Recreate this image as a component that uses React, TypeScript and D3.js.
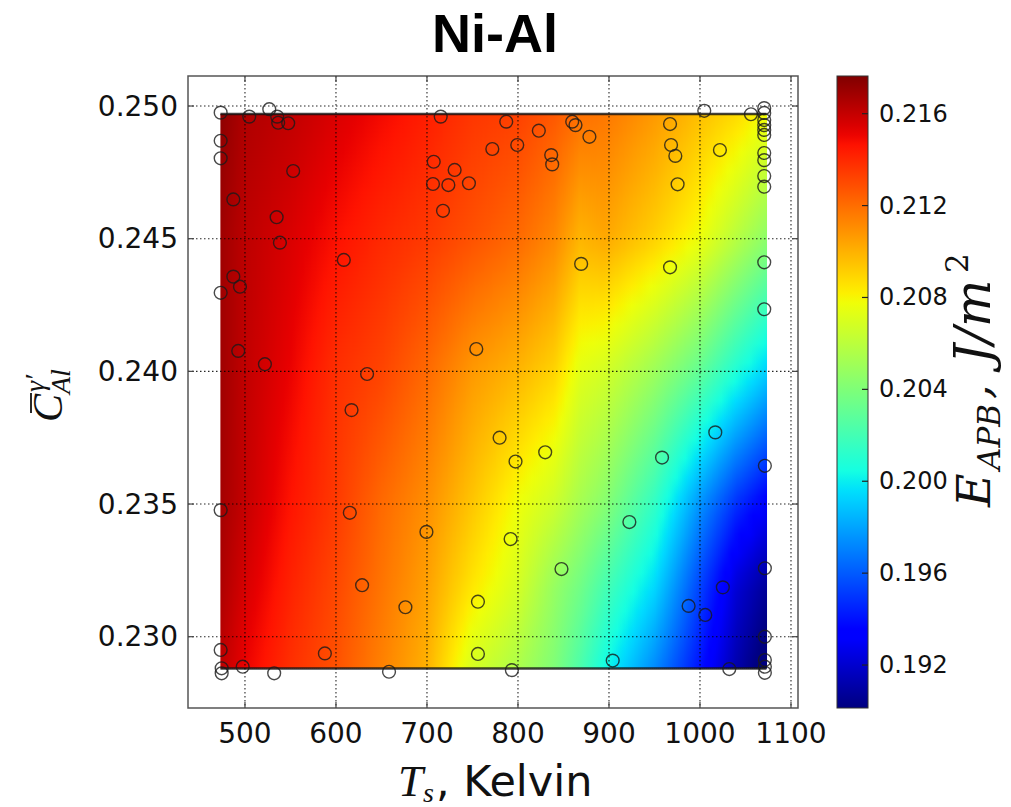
import React, { useMemo } from 'react';
import * as d3 from 'd3';

// ---- data ----
const T_COLS = [473, 500, 550, 600, 650, 700, 750, 800, 840, 868, 895, 950, 1000, 1040, 1073];
const C_ROWS = [0.2497, 0.245, 0.240, 0.235, 0.232, 0.2288];
const E_AT_C2497 = [0.2173, 0.2165, 0.2161, 0.2155, 0.2149, 0.2143, 0.2136, 0.2133, 0.2126, 0.2119, 0.2117, 0.2107, 0.2096, 0.2088, 0.2078];
const E_AT_C2450 = [0.2169, 0.2162, 0.2155, 0.2147, 0.2140, 0.2135, 0.2128, 0.2121, 0.2112, 0.2099, 0.2103, 0.2091, 0.2077, 0.2059, 0.2045];
const E_AT_C2400 = [0.2169, 0.2161, 0.2151, 0.2138, 0.2132, 0.2121, 0.2107, 0.2099, 0.2090, 0.2073, 0.2068, 0.2050, 0.2030, 0.2008, 0.1992];
const E_AT_C2350 = [0.2168, 0.2160, 0.2146, 0.2135, 0.2121, 0.2110, 0.2094, 0.2077, 0.2066, 0.2053, 0.2043, 0.2014, 0.1975, 0.1948, 0.1932];
const E_AT_C2320 = [0.2166, 0.2156, 0.2142, 0.2131, 0.2118, 0.2105, 0.2085, 0.2069, 0.2048, 0.2036, 0.2022, 0.1995, 0.1954, 0.1922, 0.1908];
const E_AT_C2288 = [0.2162, 0.2151, 0.2138, 0.2128, 0.2114, 0.2100, 0.2069, 0.2055, 0.2040, 0.2023, 0.2004, 0.1973, 0.1940, 0.1912, 0.1895];

const SAMPLE_T = [
  473.3, 504.7, 526.7, 535.4, 536.5, 547.5, 473.3, 473.3, 553.0, 487.2, 534.8, 538.4, 608.6, 487.2, 494.5, 473.3,
  715.1, 707.4, 730.4, 706.6, 723.5, 746.1, 717.6, 771.8, 787.1, 799.2, 822.9, 859.6, 863.2, 878.5, 836.5, 837.6,
  967.1, 968.2, 972.9, 975.4, 1004.7, 1021.9, 1056.0,
  1070.6, 1070.6, 1070.6, 1070.6, 1070.6, 1070.6, 1070.6, 1070.6, 1070.6, 1070.6,
  869.4, 967.1, 1070.6, 1070.6, 492.6, 521.9, 634.2, 617.1, 754.2,
  473.3, 615.2, 699.4, 628.7, 676.3, 756.0, 473.3, 587.8, 497.5, 474.4, 474.4, 532.1, 658.3, 756.0,
  779.8, 797.3, 829.9, 958.3, 1016.8, 1071.3, 922.4, 791.9, 847.8, 1071.3, 1025.1, 987.5, 1005.8, 1071.3,
  904.1, 793.3, 1032.2, 1071.3, 1071.3, 1071.3,
];
const SAMPLE_C = [
  0.24975, 0.2496, 0.24988, 0.2496, 0.24937, 0.24935, 0.24869, 0.24803, 0.24755, 0.24648, 0.24581, 0.24485, 0.2442, 0.24357, 0.24319, 0.24296,
  0.2496, 0.2479, 0.24759, 0.24706, 0.24702, 0.24709, 0.24605, 0.24838, 0.24941, 0.24853, 0.24907, 0.24941, 0.24928, 0.24884, 0.24815, 0.2478,
  0.24932, 0.24853, 0.24812, 0.24705, 0.24982, 0.24834, 0.24969,
  0.24992, 0.24974, 0.24947, 0.24928, 0.2491, 0.24891, 0.24823, 0.24796, 0.24736, 0.24696,
  0.24405, 0.24392, 0.24411, 0.24234, 0.24077, 0.24027, 0.2399, 0.23854, 0.24084,
  0.23477, 0.23467, 0.23395, 0.23194, 0.23111, 0.23132, 0.2295, 0.22937, 0.22887, 0.22881, 0.22862, 0.22862, 0.22868, 0.22935,
  0.2375, 0.2366, 0.23695, 0.23675, 0.2377, 0.23644, 0.23432, 0.23368, 0.23255, 0.23258, 0.23186, 0.23116, 0.23082, 0.23,
  0.2291, 0.22874, 0.22878, 0.22912, 0.22887, 0.22864,
];

const X_TICKS = [500, 600, 700, 800, 900, 1000, 1100];
const Y_TICKS = [0.230, 0.235, 0.240, 0.245, 0.250];
const CB_TICKS = [0.192, 0.196, 0.200, 0.204, 0.208, 0.212, 0.216];
const X_DOMAIN = [437.4, 1107.7];
const Y_DOMAIN = [0.227313, 0.251131];
const E_DOMAIN = [0.19013, 0.21764];

// ---- layout ----
const W = 1011, H = 807;
const PL = 188, PR = 798, PT = 76, PB = 708;
const CBL = 837, CBR = 868;

const jr = d3.scaleLinear([0, 0.35, 0.66, 0.89, 1], [0, 0, 1, 1, 0.5]).clamp(true);
const jg = d3.scaleLinear([0, 0.125, 0.375, 0.64, 0.91, 1], [0, 0, 1, 1, 0, 0]).clamp(true);
const jb = d3.scaleLinear([0, 0.11, 0.34, 0.65, 1], [0.5, 1, 1, 0, 0]).clamp(true);
const jet = (t: number) => d3.rgb(jr(t) * 255, jg(t) * 255, jb(t) * 255).formatHex();

export default function App() {
  const x = d3.scaleLinear(X_DOMAIN, [PL, PR]);
  const y = d3.scaleLinear(Y_DOMAIN, [PB, PT]);
  const cbY = d3.scaleLinear(E_DOMAIN, [PB, PT]);
  const norm = d3.scaleLinear(E_DOMAIN, [0, 1]);
  const color = (v: number) => jet(norm(v));

  const grid = [E_AT_C2497, E_AT_C2450, E_AT_C2400, E_AT_C2350, E_AT_C2320, E_AT_C2288];
  const rowInterp = grid.map((row) => d3.scaleLinear(T_COLS, row).clamp(true));

  const tMin = T_COLS[0], tMax = T_COLS[T_COLS.length - 1];
  const cTop = C_ROWS[0], cBot = C_ROWS[C_ROWS.length - 1];
  const hx0 = x(tMin), hx1 = x(tMax);
  const hy0 = y(cTop), hy1 = y(cBot);

  const strips = useMemo(() => {
    const out: { x0: number; w: number; stops: { o: number; c: string }[] }[] = [];
    const step = 2;
    const nStops = 30;
    for (let px = hx0; px < hx1; px += step) {
      const w = Math.min(step, hx1 - px);
      const T = x.invert(px + w / 2);
      const colVals = rowInterp.map((f) => f(T));
      const colF = d3.scaleLinear(C_ROWS, colVals);
      const stops = [];
      for (let k = 0; k < nStops; k++) {
        const o = k / (nStops - 1);
        const C = cTop + (cBot - cTop) * o;
        stops.push({ o, c: color(colF(C)) });
      }
      out.push({ x0: px, w, stops });
    }
    return out;
  }, []);

  const cbStops = d3.range(0, 65).map((k) => {
    const o = k / 64;
    const v = E_DOMAIN[1] - (E_DOMAIN[1] - E_DOMAIN[0]) * o;
    return { o, c: color(v) };
  });

  const tickFont = 'DejaVu Sans';
  const mathFont = 'Liberation Serif';
  const cbMath = 'DejaVu Serif';

  return (
    <svg width={W} height={H} style={{ position: 'absolute', left: 0, top: 0, background: '#fff' }}>
      <defs>
        {strips.map((s, i) => (
          <linearGradient key={i} id={`hg${i}`} x1="0" y1="0" x2="0" y2="1">
            {s.stops.map((st, j) => (
              <stop key={j} offset={st.o} stopColor={st.c} />
            ))}
          </linearGradient>
        ))}
        <linearGradient id="cbg" x1="0" y1="0" x2="0" y2="1">
          {cbStops.map((st, j) => (
            <stop key={j} offset={st.o} stopColor={st.c} />
          ))}
        </linearGradient>
      </defs>

      {/* title */}
      <text x={495} y={52} textAnchor="middle" fontFamily="Liberation Sans" fontWeight="bold" fontSize={54} fill="#000">
        Ni-Al
      </text>

      {/* heatmap */}
      <g>
        {strips.map((s, i) => (
          <rect key={i} x={s.x0} y={hy0} width={s.w + 0.6} height={hy1 - hy0} fill={`url(#hg${i})`} />
        ))}
        <line x1={hx0} x2={hx1} y1={hy0} y2={hy0} stroke="#111" strokeOpacity={0.8} strokeWidth={2.5} />
        <line x1={hx0} x2={hx1} y1={hy1} y2={hy1} stroke="#111" strokeOpacity={0.8} strokeWidth={2.5} />
      </g>

      {/* grid */}
      <g stroke="#000" strokeWidth={1.1} strokeDasharray="1.5,2.5" strokeOpacity={0.85}>
        {X_TICKS.map((t) => (
          <line key={t} x1={x(t)} x2={x(t)} y1={PT} y2={PB} />
        ))}
        {Y_TICKS.map((t) => (
          <line key={t} x1={PL} x2={PR} y1={y(t)} y2={y(t)} />
        ))}
      </g>

      {/* samples */}
      <g fill="none" stroke="#1a1a1a" strokeOpacity={0.8} strokeWidth={1.4}>
        {SAMPLE_T.map((t, i) => (
          <circle key={i} cx={x(t)} cy={y(SAMPLE_C[i])} r={6.4} />
        ))}
      </g>

      {/* frame & ticks */}
      <rect x={PL} y={PT} width={PR - PL} height={PB - PT} fill="none" stroke="#555" strokeWidth={1.5} />
      <g stroke="#444" strokeWidth={1.2}>
        {X_TICKS.map((t) => (
          <g key={t}>
            <line x1={x(t)} x2={x(t)} y1={PB} y2={PB - 6} />
            <line x1={x(t)} x2={x(t)} y1={PT} y2={PT + 6} />
          </g>
        ))}
        {Y_TICKS.map((t) => (
          <g key={t}>
            <line x1={PL} x2={PL + 6} y1={y(t)} y2={y(t)} />
            <line x1={PR} x2={PR - 6} y1={y(t)} y2={y(t)} />
          </g>
        ))}
      </g>
      <g fontFamily={tickFont} fontSize={28} fill="#111">
        {X_TICKS.map((t) => (
          <text key={t} x={x(t)} y={743} textAnchor="middle">
            {t}
          </text>
        ))}
        {Y_TICKS.map((t) => (
          <text key={t} x={178} y={y(t)} textAnchor="end" dominantBaseline="central">
            {t.toFixed(3)}
          </text>
        ))}
      </g>

      {/* x label */}
      <g>
        <text x={398} y={796} fontFamily={mathFont} fontStyle="italic" fontSize={45} fill="#111">
          T
        </text>
        <text x={423} y={802} fontFamily={mathFont} fontStyle="italic" fontSize={28} fill="#111">
          s
        </text>
        <text x={436} y={796} fontFamily={tickFont} fontSize={43} fill="#111">
          , Kelvin
        </text>
      </g>

      {/* y label */}
      <g transform="translate(62,422) rotate(-90)" fill="#111" fontFamily={mathFont} fontStyle="italic">
        <text x={0} y={0} fontSize={42}>C</text>
        <line x1={9} x2={29} y1={-31} y2={-31} stroke="#111" strokeWidth={1.8} />
        <text x={30} y={-18} fontSize={28}>γ′</text>
        <text x={28} y={8} fontSize={28}>Al</text>
      </g>

      {/* colorbar */}
      <rect x={CBL} y={PT} width={CBR - CBL} height={PB - PT} fill="url(#cbg)" stroke="#333" strokeWidth={1} />
      <g stroke="#222" strokeWidth={1.2}>
        {CB_TICKS.map((t) => (
          <line key={t} x1={CBR - 6} x2={CBR} y1={cbY(t)} y2={cbY(t)} />
        ))}
      </g>
      <g fontFamily={tickFont} fontSize={24} fill="#111">
        {CB_TICKS.map((t) => (
          <text key={t} x={879} y={cbY(t)} dominantBaseline="central">
            {t.toFixed(3)}
          </text>
        ))}
      </g>

      {/* colorbar label */}
      <g transform="translate(990,507) rotate(-90)" fill="#111" fontFamily={cbMath} fontStyle="italic">
        <text x={0} y={0} fontSize={46}>E</text>
        <text x={37} y={10} fontSize={31}>APB</text>
        <text x={108} y={0} fontSize={46}>,</text>
        <text x={143} y={0} fontSize={50}>J/m</text>
        <text x={234} y={-22} fontSize={31} fontStyle="normal">2</text>
      </g>
    </svg>
  );
}
